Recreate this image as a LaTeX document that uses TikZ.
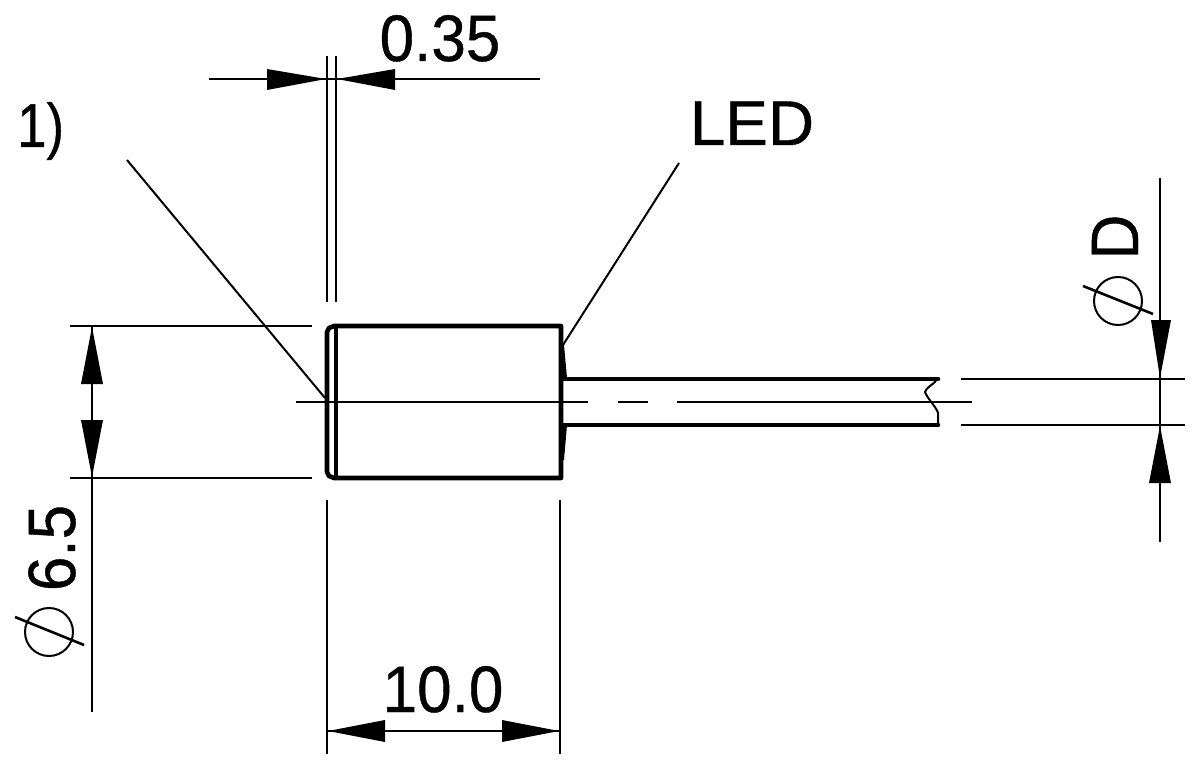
\documentclass[tikz,border=0pt]{standalone}
\usepackage{fontspec}
\setmainfont[FakeBold=0.6]{Liberation Sans}
\newcommand{\tall}[2][1.06]{\scalebox{1}[#1]{#2}}
\tikzset{
  thin line/.style={line width=2pt,line cap=butt},
  slash line/.style={line width=2.6pt,line cap=butt},
  thick outline/.style={line width=4.6pt,line join=round,line cap=round},
  head/.style={fill=black,draw=none},
  label/.style={font=\fontsize{62}{62}\selectfont,inner sep=0pt,text=black},
}
\begin{document}
\begin{tikzpicture}[x=1pt,y=-1pt]
\useasboundingbox (0,0) rectangle (1200,770);
\fill[white] (0,0) rectangle (1200,770);
% anchor coordinates
\coordinate (a1) at (127,160);
\coordinate (a2) at (325,398);
\coordinate (l1) at (679,163);
\coordinate (l2) at (563,345);
% body
\draw[thick outline] (334,326) -- (561,326) -- (561,478) -- (334,478) -- (329,476) -- (327,472) -- (327,332) -- (329,328) -- cycle;
\draw[line width=4pt] (336,326) -- (336,478);
% collar
\fill (561,345) -- (564,345) -- (567,378) -- (561,378) -- cycle;
\fill (561,425) -- (567,425) -- (564,460) -- (561,460) -- cycle;
% cable
\draw[line width=4.6pt,line cap=round] (562,379) -- (938,379);
\draw[line width=4.6pt,line cap=round] (562,425) -- (938,425);
\draw[line width=2pt] (936,381) .. controls (932,385) and (926,388) .. (925,392) .. controls (927,398) and (937,408) .. (938,413) -- (938,425);
% centre line
\draw[thin line] (296,401.5) -- (588,401.5);
\draw[thin line] (618,401.5) -- (648,401.5);
\draw[thin line] (677,401.5) -- (972,401.5);
% leaders
\draw[thin line] (a1) -- (a2);
\draw[thin line] (l1) -- (l2);
% 0.35
\draw[thin line] (327,56) -- (327,302);
\draw[thin line] (336,56) -- (336,302);
\draw[thin line] (209,79) -- (540,79);
\fill[head] (267,69) -- (326,79) -- (267,90) -- cycle;
\fill[head] (395,69) -- (337,79) -- (395,90) -- cycle;
\node[label,anchor=base] (t035) at (440,61) {\tall{0.35}};
% 1)
\node[label,anchor=base west] (t1) at (17,147) {\scalebox{0.85}[1]{1)}};
% LED
\node[label,anchor=base] (tled) at (752,145) {\scalebox{1.03}[1.02]{LED}};
% 6.5
\draw[thin line] (70,326) -- (312,326);
\draw[thin line] (70,478) -- (312,478);
\draw[thin line] (92,326) -- (92,712);
\fill[head] (92,327) -- (81,384) -- (103,384) -- cycle;
\fill[head] (92,477) -- (81,420) -- (103,420) -- cycle;
\node[label,anchor=base,rotate=90] (t65) at (75,548) {\tall[1.08]{6.5}};
\draw[thin line] (49,632) circle (24);
\draw[slash line] (15,617) -- (84,645);
% 10.0
\draw[thin line] (327,500) -- (327,754);
\draw[thin line] (560,500) -- (560,754);
\draw[thin line] (327,731) -- (560,731);
\fill[head] (328,731) -- (385,720) -- (385,742) -- cycle;
\fill[head] (559,731) -- (502,720) -- (502,742) -- cycle;
\node[label,anchor=base] (t10) at (443,712) {\tall{10.0}};
% D
\draw[thin line] (961,379) -- (1185,379);
\draw[thin line] (961,425) -- (1185,425);
\draw[thin line] (1160,178) -- (1160,542);
\fill[head] (1160,378) -- (1151,320) -- (1171,320) -- cycle;
\fill[head] (1160,426) -- (1149,483) -- (1171,483) -- cycle;
\node[label,anchor=base,rotate=90] (tD) at (1138,237) {\tall[1.08]{D}};
\draw[thin line] (1118,301) circle (24);
\draw[slash line] (1083,286) -- (1153,314);
\end{tikzpicture}
\end{document}
